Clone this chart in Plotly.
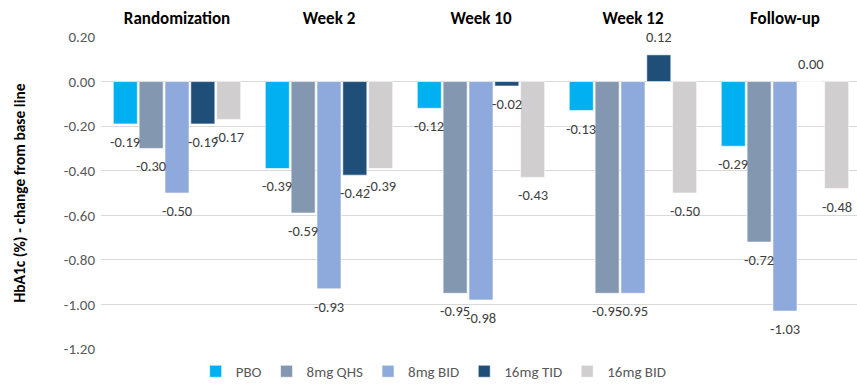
import plotly.graph_objects as go

# Visit windows along the x axis
visits = ["Randomization", "Week 2", "Week 10", "Week 12", "Follow-up"]

# HbA1c change from baseline (%) per treatment arm
pbo = [-0.19, -0.39, -0.12, -0.13, -0.29]
qhs_8mg = [-0.30, -0.59, -0.95, -0.95, -0.72]
bid_8mg = [-0.50, -0.93, -0.98, -0.95, -1.03]
tid_16mg = [-0.19, -0.42, -0.02, 0.12, 0.00]
bid_16mg = [-0.17, -0.39, -0.43, -0.50, -0.48]

arm_names = ["PBO", "8mg QHS", "8mg BID", "16mg TID", "16mg BID"]
arm_values = [pbo, qhs_8mg, bid_8mg, tid_16mg, bid_16mg]
arm_colors = ["#00B0F0", "#8497B0", "#8EA9DB", "#1F4E79", "#D0CECE"]

# y axis ticks
y_ticks = [0.20, 0.00, -0.20, -0.40, -0.60, -0.80, -1.00, -1.20]
y_tick_labels = ["0.20", "0.00", "-0.20", "-0.40", "-0.60", "-0.80", "-1.00", "-1.20"]

FONT = "Carlito, Lato, sans-serif"
W, H = 857, 388
M_L, M_R, M_T, M_B = 101, 0, 37, 34
BARGAP, GROUPGAP = 0.15, 0.07
X_RANGE = [-0.5, 4.474]

fig = go.Figure()
for name, vals, col in zip(arm_names, arm_values, arm_colors):
    fig.add_trace(go.Bar(
        name=name, x=visits, y=vals,
        marker=dict(color=col, line=dict(color="white", width=0.6)),
        hoverinfo="x+y+name",
    ))

# Value labels just beyond each bar end, positioned on the same axes
plot_w = W - M_L - M_R
cat_px = plot_w / (X_RANGE[1] - X_RANGE[0])
slot_px = cat_px * (1 - BARGAP) / len(arm_names)
for i, vals in enumerate(arm_values):
    shift = (i - (len(arm_names) - 1) / 2) * slot_px
    for v, cat in zip(vals, visits):
        fig.add_annotation(
            x=cat, y=v, xref="x", yref="y",
            text=f"{v:.2f}", showarrow=False,
            xshift=shift, yshift=18 if v >= 0 else -18,
            font=dict(family=FONT, size=14.5, color="#404040"),
        )

fig.update_layout(
    width=W, height=H,
    margin=dict(l=M_L, r=M_R, t=M_T, b=M_B),
    paper_bgcolor="white", plot_bgcolor="white",
    barmode="group", bargap=BARGAP, bargroupgap=GROUPGAP,
    font=dict(family=FONT, size=15, color="#595959"),
    showlegend=True,
    legend=dict(
        orientation="h", x=0.44, xanchor="center", y=-0.02, yanchor="top",
        font=dict(family=FONT, size=15, color="#595959"),
        itemwidth=30, tracegroupgap=0,
    ),
    xaxis=dict(
        side="top", range=X_RANGE, showgrid=False, showline=False,
        ticks="", ticklabelstandoff=9,
        tickfont=dict(family=FONT, size=17, color="#000000", weight="bold"),
    ),
    yaxis=dict(
        range=[-1.2, 0.2], tickvals=y_ticks, ticktext=y_tick_labels,
        showgrid=True, gridcolor="#D9D9D9", gridwidth=1,
        zeroline=True, zerolinecolor="#D9D9D9", zerolinewidth=1,
        showline=False, ticks="", ticklabelstandoff=5,
        tickfont=dict(family=FONT, size=15, color="#595959"),
        title=dict(
            text="<b>HbA1c (%) - change from base line</b>",
            font=dict(family=FONT, size=15.5, color="#000000"),
            standoff=34,
        ),
    ),
)

fig.write_html("out.html")
